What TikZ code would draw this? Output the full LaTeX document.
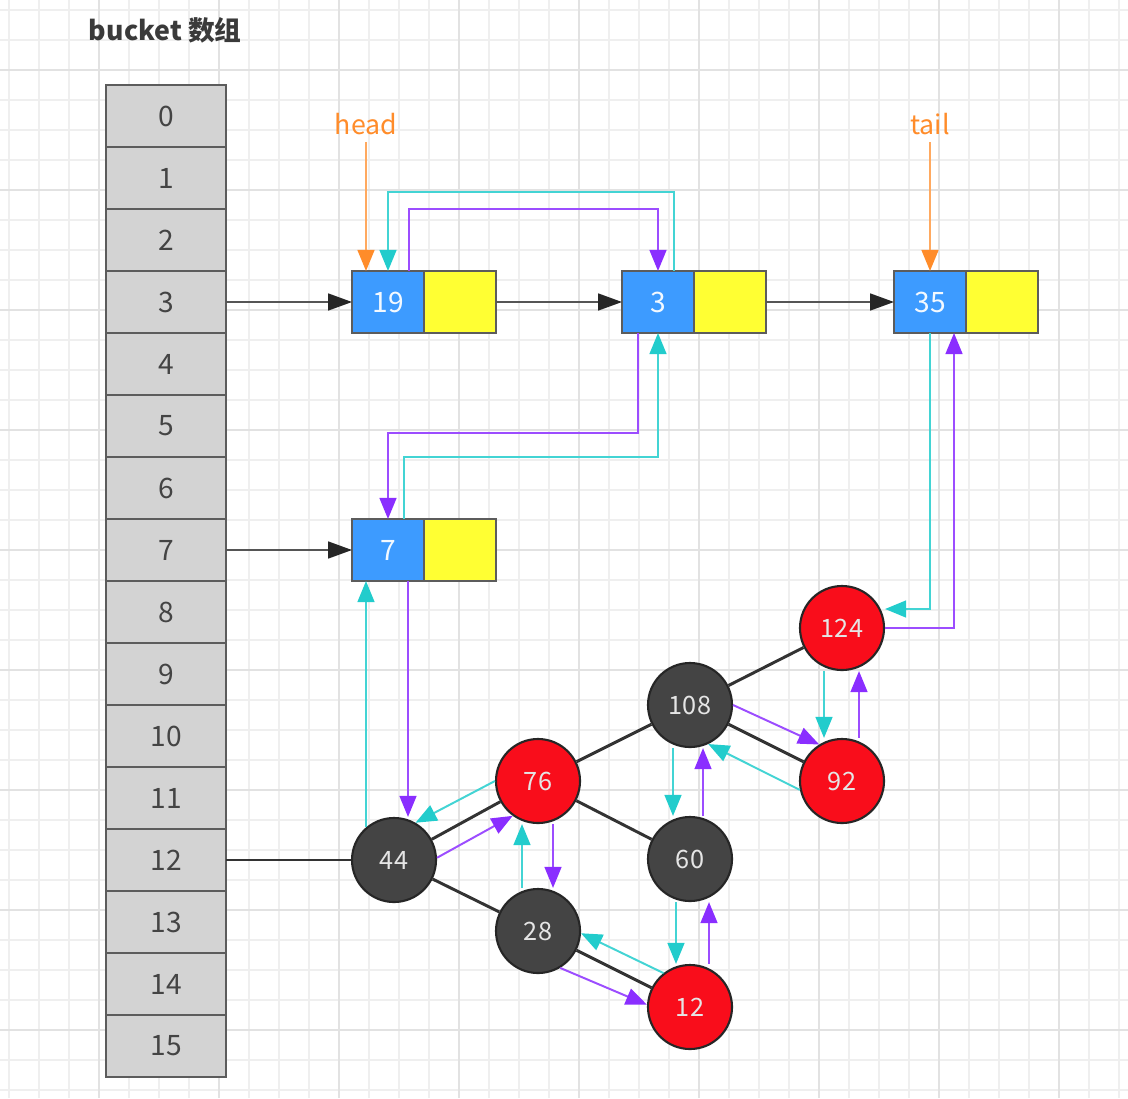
\documentclass[tikz,border=0pt]{standalone}
\usepackage{fontspec}
\setmainfont{Noto Sans CJK SC}
\usetikzlibrary{arrows.meta,positioning}

\definecolor{gridminor}{HTML}{EFEFEF}
\definecolor{gridmajor}{HTML}{E2E2E2}
\definecolor{cellfill}{HTML}{D3D3D3}
\definecolor{celledge}{HTML}{5C5C5C}
\definecolor{celltext}{HTML}{444444}
\definecolor{titlegray}{HTML}{3A3A3A}
\definecolor{keyblue}{HTML}{3D9BFF}
\definecolor{nextyellow}{HTML}{FFFF33}
\definecolor{nodered}{HTML}{F90D1B}
\definecolor{nodegray}{HTML}{444444}
\definecolor{prevcyan}{HTML}{22CCCC}
\definecolor{nextpurple}{HTML}{8A2EFF}
\definecolor{ptrorange}{HTML}{FF8C2A}
\definecolor{linkgray}{HTML}{555555}

\tikzset{
  cell/.style={draw=celledge, fill=cellfill, line width=1.3pt, minimum width=3cm,
    minimum height=1.55cm, inner sep=0pt, outer sep=0pt, text=celltext,
    font=\fontsize{20}{24}\selectfont},
  keybox/.style={draw=celledge, fill=keyblue, line width=1.3pt, minimum width=1.8cm,
    minimum height=1.55cm, inner sep=0pt, outer sep=0pt, text=white!94!keyblue,
    font=\fontsize{20}{24}\selectfont},
  nextbox/.style={keybox, fill=nextyellow},
  rbnode/.style={circle, draw=black!85, line width=1.5pt, minimum size=2.1cm,
    inner sep=0pt, text=white!90!black, font=\fontsize{18}{22}\selectfont},
  rednode/.style={rbnode, fill=nodered},
  blacknode/.style={rbnode, fill=nodegray},
  treeedge/.style={draw=black!80, line width=2.1pt},
  link/.style={draw=linkgray, line width=1.4pt,
    -{Triangle[length=17pt,width=12pt,color=black!85]}},
  nextptr/.style={draw=nextpurple!85!white, line width=1.4pt,
    -{Triangle[length=15pt,width=12pt,color=nextpurple]}},
  prevptr/.style={draw=prevcyan!85!white, line width=1.4pt,
    -{Triangle[length=15pt,width=12pt,color=prevcyan]}},
  ptrlabel/.style={text=ptrorange, font=\fontsize{19}{22}\selectfont, inner sep=5pt},
  ptr/.style={draw=ptrorange!75!white, line width=1.4pt,
    -{Triangle[length=15pt,width=12pt,color=ptrorange]}}
}

\begin{document}
\begin{tikzpicture}[x=.025cm,y=-.025cm]
  \useasboundingbox (0,0) rectangle (1128,1098);
  % background
  \fill[white] (0,0) rectangle (1128,1098);
  \foreach \x in {9,39,...,1128} \draw[gridminor,line width=.8pt] (\x,0) -- (\x,1098);
  \foreach \y in {10,40,...,1098} \draw[gridminor,line width=.8pt] (0,\y) -- (1128,\y);
  \foreach \x in {99,219,...,1128} \draw[gridmajor,line width=.9pt] (\x,0) -- (\x,1098);
  \foreach \y in {70,190,...,1098} \draw[gridmajor,line width=.9pt] (0,\y) -- (1128,\y);

  % bucket array
  \node[anchor=west, text=titlegray, font=\fontsize{19}{22}\selectfont\bfseries] (title) at (84,30) {bucket 数组};
  \foreach \i in {0,...,15}
    \node[cell] (b\i) at (166,{116+62*\i}) {\i};

  % list nodes
  \foreach \k/\x/\y in {19/388/302,3/658/302,35/930/302,7/388/550} {
    \node[keybox] (n\k) at (\x,\y) {\k};
    \node[nextbox, right=0pt of n\k] (y\k) {};
  }
  \node[ptrlabel] (head) at (366,124) {head};
  \node[ptrlabel] (tail) at (930,124) {tail};

  % tree nodes
  \foreach \k/\x/\y/\s in {124/842/628/rednode,108/690/705/blacknode,92/842/781/rednode,
      76/538/781/rednode,60/690/859/blacknode,44/394/860/blacknode,
      28/538/931/blacknode,12/690/1007/rednode}
    \node[\s] (t\k) at (\x,\y) {\k};
  \foreach \a/\b in {124/108,108/76,108/92,76/44,76/60,44/28,28/12}
    \draw[treeedge] (t\a) -- (t\b);
  \draw[treeedge] (b12) -- (t44);

  % bucket links
  \draw[link] (b3) -- (n19);
  \draw[link] (y19) -- (n3);
  \draw[link] (y3) -- (n35);
  \draw[link] (b7) -- (n7);
  \draw[ptr] (head) -- ([xshift=-.55cm]n19.north);
  \draw[ptr] (tail) -- (n35.north);

  % next / prev
  \draw[prevptr] ([xshift=.4cm]n3.north) -- ++(0,-79) -| (n19.north);
  \draw[nextptr] ([xshift=.525cm]n19.north) -- ++(0,-62) -| (n3.north);
  \draw[nextptr] ([xshift=-.5cm]n3.south) -- ++(0,100) -| (n7.north);
  \draw[prevptr] ([xshift=.4cm]n7.north) -- ++(0,-62) -| (n3.south);
  \draw[prevptr] (n35.south) |- ([yshift=.475cm]t124.east);
  \draw[nextptr] (t124.east) -| ([xshift=.6cm]n35.south);
  \draw[nextptr] ([xshift=.5cm]n7.south) -- ([xshift=.5cm]n7.south |- t44.north);
  \draw[prevptr] ([xshift=-.55cm,yshift=-.25cm]n7.south |- t44.north) -- ([xshift=-.55cm]n7.south);
  \draw[nextptr] (t44.3) -- (t76.234);
  \draw[prevptr] (t76.180) -- (t44.60);
  \draw[nextptr] ([xshift=.375cm]t76.south) -- ([xshift=.375cm]t76.south |- t28.north);
  \draw[prevptr] ([xshift=-.4cm]t76.south |- t28.north) -- ([xshift=-.4cm]t76.south);
  \draw[nextptr] (t28.301) -- (t12.177);
  \draw[prevptr] (t12.128) -- (t28.357);
  \draw[nextptr] ([xshift=.475cm]t12.north) -- ([xshift=.475cm]t60.south);
  \draw[prevptr] ([xshift=-.35cm]t60.south) -- ([xshift=-.35cm]t12.north);
  \draw[nextptr] ([xshift=.325cm]t60.north) -- ([xshift=.325cm]t108.south);
  \draw[prevptr] ([xshift=-.425cm]t108.south) -- ([xshift=-.425cm]t60.north);
  \draw[nextptr] (t108.0) -- (t92.122);
  \draw[prevptr] (t92.192) -- (t108.295);
  \draw[prevptr] ([xshift=-.45cm]t124.south) -- ([xshift=-.45cm]t92.north);
  \draw[nextptr] ([xshift=.425cm]t92.north) -- ([xshift=.425cm]t124.south);
\end{tikzpicture}
\end{document}
